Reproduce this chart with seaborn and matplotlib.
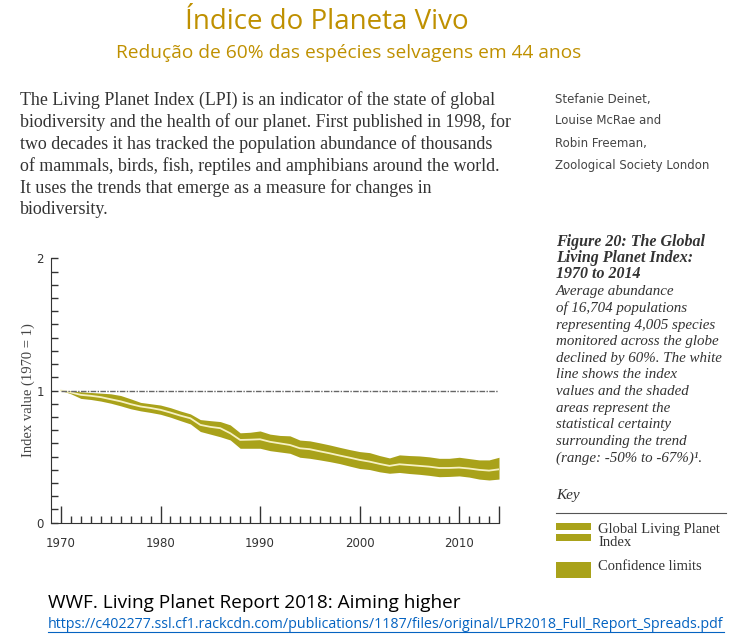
import numpy as np
import pandas as pd
import matplotlib
matplotlib.use("Agg")
import matplotlib.pyplot as plt
import seaborn as sns
from matplotlib.lines import Line2D
from matplotlib.patches import Rectangle

# Living Planet Index 1970-2014
years = [1970, 1971, 1972, 1973, 1974, 1975, 1976, 1977, 1978, 1979, 1980, 1981,
         1982, 1983, 1984, 1985, 1986, 1987, 1988, 1989, 1990, 1991, 1992, 1993,
         1994, 1995, 1996, 1997, 1998, 1999, 2000, 2001, 2002, 2003, 2004, 2005,
         2006, 2007, 2008, 2009, 2010, 2011, 2012, 2013, 2014]
index_value = [1.0, 0.985, 0.967, 0.960, 0.950, 0.934, 0.918, 0.897, 0.879, 0.868,
               0.854, 0.833, 0.810, 0.790, 0.740, 0.725, 0.715, 0.677, 0.626, 0.628,
               0.631, 0.612, 0.600, 0.588, 0.563, 0.556, 0.540, 0.525, 0.508, 0.492,
               0.475, 0.462, 0.445, 0.430, 0.442, 0.436, 0.430, 0.424, 0.414, 0.414,
               0.417, 0.410, 0.400, 0.394, 0.404]
upper = [1.0, 0.998, 0.990, 0.985, 0.980, 0.975, 0.962, 0.937, 0.910, 0.900,
         0.890, 0.870, 0.845, 0.823, 0.780, 0.772, 0.765, 0.740, 0.680, 0.684,
         0.694, 0.670, 0.660, 0.657, 0.625, 0.619, 0.604, 0.588, 0.570, 0.553,
         0.538, 0.530, 0.508, 0.490, 0.513, 0.508, 0.505, 0.498, 0.487, 0.487,
         0.495, 0.485, 0.475, 0.475, 0.495]
lower = [1.0, 0.975, 0.940, 0.932, 0.920, 0.904, 0.884, 0.862, 0.846, 0.834,
         0.820, 0.798, 0.772, 0.747, 0.690, 0.670, 0.650, 0.626, 0.563, 0.563,
         0.563, 0.545, 0.535, 0.525, 0.495, 0.487, 0.475, 0.462, 0.447, 0.428,
         0.410, 0.402, 0.385, 0.374, 0.380, 0.372, 0.366, 0.358, 0.348, 0.350,
         0.354, 0.345, 0.330, 0.323, 0.330]

df = pd.DataFrame({"year": years, "index": index_value, "upper": upper, "lower": lower})

olive = "#A9A21A"
gold = "#BF9000"

W, H = 732, 640
fig = plt.figure(figsize=(W / 100, H / 100), dpi=100)
fig.patch.set_facecolor("white")


def fx(x):
    return x / W


def fy(y):
    return 1 - y / H


narrow = ["Liberation Sans Narrow", "DejaVu Sans"]
serif = ["Liberation Serif", "DejaVu Serif"]
office = ["Open Sans", "DejaVu Sans"]

# headings
fig.text(fx(327), fy(22), "Índice do Planeta Vivo", family=office, fontsize=20,
         color=gold, ha="center", va="center")
fig.text(fx(349), fy(53), "Redução de 60% das espécies selvagens em 44 anos",
         family=office, fontsize=13.8, color=gold, ha="center", va="center")

body = ["The Living Planet Index (LPI) is an indicator of the state of global",
        "biodiversity and the health of our planet. First published in 1998, for",
        "two decades it has tracked the population abundance of thousands",
        "of mammals, birds, fish, reptiles and amphibians around the world.",
        "It uses the trends that emerge as a measure for changes in",
        "biodiversity."]
for i, line in enumerate(body):
    fig.text(fx(20), fy(100 + 22 * i), line, family=serif, fontsize=12.9,
             color="#333333", va="center")

authors = ["Stefanie Deinet,", "Louise McRae and", "Robin Freeman,",
           "Zoological Society London"]
for i, line in enumerate(authors):
    fig.text(fx(555), fy(99 + 22 * i), line, family=narrow, fontsize=8.5,
             color="#444444", va="center")

cap_bold = ["Figure 20: The Global", "Living Planet Index:", "1970 to 2014"]
for i, line in enumerate(cap_bold):
    fig.text(fx(556), fy(242 + 16 * i), line, family=serif, fontsize=11.5,
             style="italic", weight="bold", color="#333333", va="center")
cap = ["Average abundance", "of 16,704 populations", "representing 4,005 species",
       "monitored across the globe", "declined by 60%. The white",
       "line shows the index", "values and the shaded", "areas represent the",
       "statistical certainty", "surrounding the trend",
       "(range: -50% to -67%)¹."]
for i, line in enumerate(cap):
    fig.text(fx(556), fy(292 + 16.6 * i), line, family=serif, fontsize=10.8,
             style="italic", color="#333333", va="center")

# key
fig.text(fx(556), fy(496), "Key", family=serif, fontsize=11, style="italic",
         color="#333333", va="center")
fig.add_artist(Line2D([fx(556), fx(726)], [fy(513), fy(513)], color="#555555", lw=0.8))
fig.add_artist(Rectangle((fx(556), fy(530)), 35 / W, 7 / H, color=olive, lw=0))
fig.add_artist(Rectangle((fx(556), fy(541)), 35 / W, 7 / H, color=olive, lw=0))
fig.add_artist(Rectangle((fx(556), fy(578)), 35 / W, 16 / H, color=olive, lw=0))
fig.text(fx(598), fy(529), "Global Living Planet", family=serif, fontsize=10.5,
         color="#333333", va="center")
fig.text(fx(598), fy(543), "Index", family=serif, fontsize=10.5,
         color="#333333", va="center")
fig.text(fx(598), fy(567), "Confidence limits", family=serif, fontsize=10.5,
         color="#333333", va="center")

# source
fig.text(fx(48), fy(603), "WWF. Living Planet Report 2018: Aiming higher",
         family=office, fontsize=13.7, color="black", va="center")
url = fig.text(fx(48), fy(625),
               "https://c402277.ssl.cf1.rackcdn.com/publications/1187/files/original/LPR2018_Full_Report_Spreads.pdf",
               family=office, fontsize=10.3, color="#0563C1", va="center")

# chart
ax = fig.add_axes([fx(50.7), fy(522.7), (499 - 50.7) / W, (522.7 - 258.3) / H])
ax.fill_between(df["year"], df["lower"], df["upper"], color=olive, lw=0)
sns.lineplot(data=df, x="year", y="index", ax=ax, color="#F6F1C4", lw=1.3)
ax.hlines(1, 1970, 2014, colors="#666666", linestyles=(0, (4, 1, 1, 1)), lw=1)

ax.set_xlim(1968.97, 2014)
ax.set_ylim(0, 2)
for s in ["top", "right"]:
    ax.spines[s].set_visible(False)
ax.spines["left"].set_color("#333333")
ax.spines["bottom"].set_color("#333333")

ax.set_xticks([1970, 1980, 1990, 2000, 2010, 2014])
ax.set_xticklabels(["1970", "1980", "1990", "2000", "2010", ""])
ax.set_xticks(years, minor=True)
ax.set_yticks([0, 1, 2])
ax.set_yticks(np.arange(0, 2.01, 0.1), minor=True)
ax.tick_params(axis="x", which="major", direction="in", length=12, width=1,
               pad=10, labelsize=8.5, colors="#333333")
ax.tick_params(axis="x", which="minor", direction="in", length=5, width=1,
               colors="#333333")
ax.tick_params(axis="y", which="both", direction="in", length=5, width=1,
               pad=5, labelsize=8.5, colors="#333333")
for lab in ax.get_xticklabels() + ax.get_yticklabels():
    lab.set_family(narrow)
ax.set_xlabel("")
ax.set_ylabel("Index value (1970 = 1)", family=serif, fontsize=10.5,
              color="#444444", labelpad=1)

fig.canvas.draw()
bb = url.get_window_extent()
fig.add_artist(Line2D([bb.x0 / W, bb.x1 / W], [(bb.y0 + 1) / H, (bb.y0 + 1) / H],
                      color="#0563C1", lw=0.8))

fig.savefig("out.png", dpi=100)
